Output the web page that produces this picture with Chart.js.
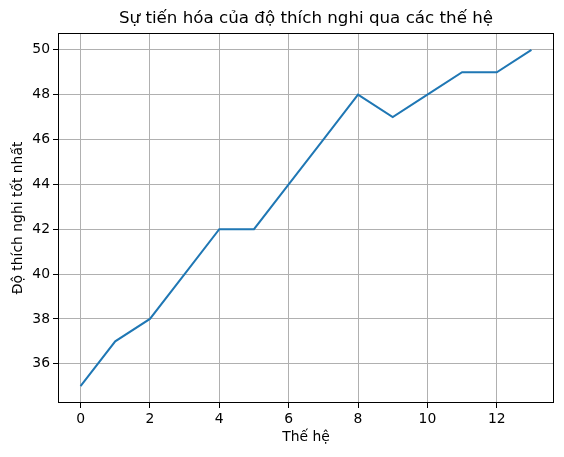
<!DOCTYPE html>
<html>
<head>
<meta charset="utf-8">
<script src="https://cdn.jsdelivr.net/npm/chart.js@4.4.0/dist/chart.umd.min.js"></script>
<style>
  html, body { margin: 0; padding: 0; background: #fff; }
  #wrap { width: 564px; height: 457px; }
</style>
</head>
<body>
<div id="wrap"><canvas id="grafica" width="564" height="457"></canvas></div>
<script>
// du lieu
const generations = [0, 1, 2, 3, 4, 5, 6, 7, 8, 9, 10, 11, 12, 13];
const bestFitness = [35, 37, 38, 40, 42, 42, 44, 46, 48, 47, 48, 49, 49, 50];
const xTicks = [0, 2, 4, 6, 8, 10, 12];
const yTicks = [36, 38, 40, 42, 44, 46, 48, 50];
const tieuDe = "Sự tiến hóa của độ thích nghi qua các thế hệ";

Chart.defaults.font.family = "'DejaVu Sans', sans-serif";
Chart.defaults.color = "#000";

// khung vien + tieu de canh giua vung ve
const khung = {
    id: "khung",
    afterDraw(chart) {
        const { ctx, chartArea: a } = chart;
        ctx.save();
        ctx.strokeStyle = "#000";
        ctx.lineWidth = 1;
        ctx.strokeRect(Math.round(a.left) + 0.5, Math.round(a.top) + 0.5,
            Math.round(a.right - a.left) - 1, Math.round(a.bottom - a.top) - 1);
        ctx.fillStyle = "#000";
        ctx.font = "16.7px 'DejaVu Sans', sans-serif";
        ctx.textAlign = "center";
        ctx.textBaseline = "middle";
        ctx.fillText(tieuDe, (a.left + a.right) / 2, 19);
        ctx.restore();
    }
};

let miGrafica = document.getElementById("grafica").getContext("2d");

var chart = new Chart(miGrafica, {
    type: "line",
    data: {
        datasets: [
            {
                label: "Độ thích nghi tốt nhất",
                data: generations.map((g, i) => ({ x: g, y: bestFitness[i] })),
                borderColor: "#1f77b4",
                borderWidth: 2,
                pointRadius: 0,
                tension: 0,
                fill: false
            }
        ]
    },
    options: {
        responsive: false,
        animation: false,
        devicePixelRatio: 1,
        layout: { padding: { left: 0, right: 10, top: 33, bottom: 0 } },
        plugins: {
            legend: { display: false },
            tooltip: { enabled: false },
            title: { display: false }
        },
        scales: {
            x: {
                type: "linear",
                min: -0.65,
                max: 13.65,
                afterFit: s => { s.height = 54; },
                afterBuildTicks: s => { s.ticks = xTicks.map(v => ({ value: v })); },
                ticks: { font: { size: 13.9 }, padding: 3, maxRotation: 0 },
                grid: { color: "#b0b0b0", lineWidth: 1, tickColor: "#000", tickLength: 5 },
                border: { display: false },
                title: { display: true, text: "Thế hệ", font: { size: 13.9 }, padding: 11 }
            },
            y: {
                type: "linear",
                min: 34.25,
                max: 50.75,
                afterFit: s => { s.width = 58; },
                afterBuildTicks: s => { s.ticks = yTicks.map(v => ({ value: v })); },
                ticks: { font: { size: 13.9 }, padding: 3 },
                grid: { color: "#b0b0b0", lineWidth: 1, tickColor: "#000", tickLength: 5 },
                border: { display: false },
                title: { display: true, text: "Độ thích nghi tốt nhất", font: { size: 13.9 }, padding: 10 }
            }
        }
    },
    plugins: [khung]
});
</script>
</body>
</html>
